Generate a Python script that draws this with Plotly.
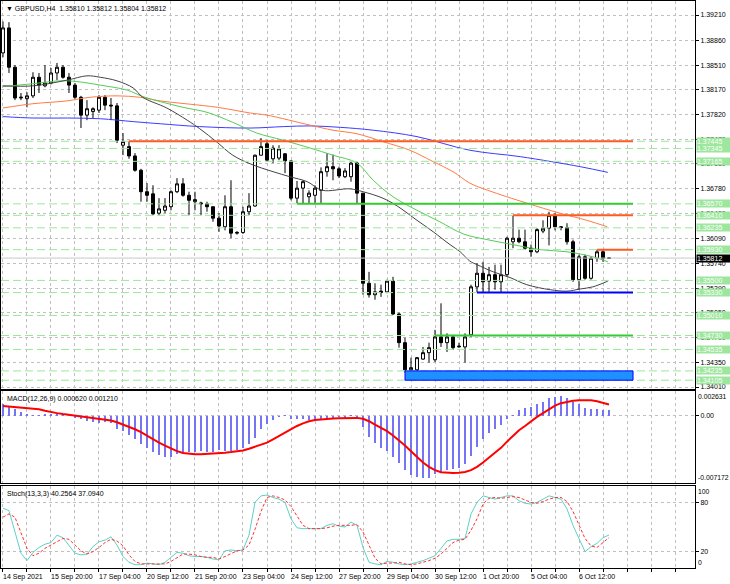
import plotly.graph_objects as go
from plotly.subplots import make_subplots

# GBPUSD H4 candles (bar index 0 = 14 Sep 2021 12:00)
opens = [1.3868, 1.3903, 1.3848, 1.3805, 1.3804, 1.3808, 1.3834, 1.3822, 1.3826, 1.3840,
         1.3848, 1.3834, 1.3823, 1.3806, 1.3781, 1.3786, 1.3788, 1.3806, 1.3795, 1.3794,
         1.3739, 1.3737, 1.3724, 1.3704, 1.3674, 1.3671, 1.3644, 1.3648, 1.3653, 1.3674,
         1.3685, 1.3669, 1.3660, 1.3657, 1.3657, 1.3653, 1.3637, 1.3625, 1.3653, 1.3616,
         1.3617, 1.3646, 1.3654, 1.3725, 1.3741, 1.3720, 1.3721, 1.3727, 1.3717, 1.3665,
         1.3679, 1.3667, 1.3669, 1.3676, 1.3702, 1.3709, 1.3706, 1.3695, 1.3695, 1.3714,
         1.3672, 1.3546, 1.3530, 1.3533, 1.3534, 1.3549, 1.3503, 1.3463, 1.3425, 1.3425,
         1.3440, 1.3449, 1.3439, 1.3471, 1.3463, 1.3471, 1.3457, 1.3457, 1.3474, 1.3541,
         1.3560, 1.3549, 1.3558, 1.3548, 1.3558, 1.3604, 1.3609, 1.3604, 1.3595, 1.3590,
         1.3619, 1.3623, 1.3641, 1.3625, 1.3624, 1.3604, 1.3551, 1.3583, 1.3553, 1.3581,
         1.3590, 1.35810]
highs = [1.3912, 1.3911, 1.3851, 1.3812, 1.3813, 1.3841, 1.3840, 1.3851, 1.3847, 1.3854,
         1.3851, 1.3840, 1.3826, 1.3808, 1.3802, 1.3792, 1.3809, 1.3809, 1.3805, 1.3798,
         1.3756, 1.3745, 1.3728, 1.3706, 1.3686, 1.3683, 1.3665, 1.3665, 1.3676, 1.3693,
         1.3693, 1.3674, 1.3674, 1.3660, 1.3660, 1.3653, 1.3644, 1.3669, 1.3690, 1.3619,
         1.3653, 1.3672, 1.3726, 1.3749, 1.3746, 1.3739, 1.3739, 1.3728, 1.3718, 1.3689,
         1.3690, 1.3676, 1.3683, 1.3708, 1.3728, 1.3726, 1.3709, 1.3707, 1.3716, 1.3716,
         1.3672, 1.3562, 1.3546, 1.3544, 1.3551, 1.3555, 1.3505, 1.3470, 1.3442, 1.3443,
         1.3457, 1.3463, 1.3481, 1.3518, 1.3476, 1.3474, 1.3463, 1.3476, 1.3544, 1.3574,
         1.3576, 1.3569, 1.3572, 1.3572, 1.3611, 1.3641, 1.3621, 1.3621, 1.3600, 1.3623,
         1.3634, 1.3646, 1.3644, 1.3626, 1.3630, 1.3607, 1.3586, 1.3586, 1.3583, 1.3593,
         1.3593, 1.35812]
lows = [1.3862, 1.3840, 1.3802, 1.3802, 1.3792, 1.3805, 1.3812, 1.3820, 1.3824, 1.3830,
        1.3832, 1.3812, 1.3804, 1.3763, 1.3774, 1.3777, 1.3784, 1.3788, 1.3774, 1.3742,
        1.3725, 1.3720, 1.3702, 1.3660, 1.3660, 1.3641, 1.3641, 1.3644, 1.3648, 1.3672,
        1.3667, 1.3641, 1.3648, 1.3641, 1.3646, 1.3632, 1.3618, 1.3620, 1.3609, 1.3614,
        1.3615, 1.3641, 1.3653, 1.3725, 1.3716, 1.3714, 1.3718, 1.3700, 1.3662, 1.3658,
        1.3658, 1.3658, 1.3658, 1.3658, 1.3695, 1.3690, 1.3693, 1.3693, 1.3688, 1.3658,
        1.3530, 1.3526, 1.3523, 1.3527, 1.3532, 1.3502, 1.3456, 1.3421, 1.3412, 1.3413,
        1.3439, 1.3435, 1.3436, 1.3457, 1.3450, 1.3453, 1.3456, 1.3435, 1.3471, 1.3533,
        1.3534, 1.3534, 1.3537, 1.3533, 1.3555, 1.3595, 1.3602, 1.3593, 1.3583, 1.3588,
        1.3616, 1.3599, 1.3620, 1.3620, 1.3600, 1.3548, 1.3537, 1.3551, 1.3551, 1.3576,
        1.3576, 1.35804]
closes = [1.3903, 1.3848, 1.3805, 1.3806, 1.3808, 1.3834, 1.3823, 1.3826, 1.3840, 1.3848,
          1.3834, 1.3823, 1.3806, 1.3781, 1.3790, 1.3790, 1.3806, 1.3795, 1.3794, 1.3746,
          1.3744, 1.3724, 1.3704, 1.3674, 1.3669, 1.3643, 1.3650, 1.3654, 1.3674, 1.3685,
          1.3669, 1.3662, 1.3663, 1.3658, 1.3653, 1.3637, 1.3626, 1.3653, 1.3616, 1.3617,
          1.3646, 1.3654, 1.3725, 1.3737, 1.3718, 1.3735, 1.3734, 1.3717, 1.3665, 1.3679,
          1.3688, 1.3672, 1.3679, 1.3702, 1.3709, 1.3706, 1.3696, 1.3703, 1.3714, 1.3672,
          1.3546, 1.3530, 1.3534, 1.3535, 1.3549, 1.3503, 1.3463, 1.3425, 1.3428, 1.3442,
          1.3449, 1.3456, 1.3471, 1.3463, 1.3471, 1.3456, 1.3458, 1.3471, 1.3541, 1.3560,
          1.3548, 1.3558, 1.3548, 1.3558, 1.3609, 1.3609, 1.3604, 1.3595, 1.3590, 1.3621,
          1.3623, 1.3641, 1.3625, 1.3624, 1.3604, 1.3551, 1.3583, 1.3553, 1.3581, 1.3590,
          1.3581, 1.35812]
bars = list(range(len(closes)))

# moving averages, read at sample bars
ma_black_x = [0, 5, 10.7, 14, 16.2, 19, 21.7, 23.3, 27.3, 30.7, 32.8, 35.7, 38.3, 41.2, 45, 47.8,
              50.7, 53.2, 57.8, 60, 63.3, 65.7, 69, 71.7, 74.5, 76.2, 77.8, 79, 81.7, 84.5, 87.3,
              91.2, 94, 96.2, 98.3, 100.8]
ma_black_y = [1.3822, 1.3822, 1.3830, 1.3836, 1.3834, 1.3829, 1.3819, 1.3806, 1.3791, 1.3774,
              1.3762, 1.3743, 1.3725, 1.3713, 1.3702, 1.3695, 1.3688, 1.3676, 1.3678, 1.3674,
              1.3665, 1.3654, 1.3634, 1.3618, 1.3600, 1.3590, 1.3577, 1.3572, 1.3562, 1.3554,
              1.3544, 1.3537, 1.3535, 1.3538, 1.3541, 1.3549]
ma_green_x = [0, 5, 9.5, 12.3, 16.2, 20.7, 23.3, 26.2, 30, 34, 38.3, 42.3, 46.7, 51.2, 55, 59,
              61.7, 65, 69, 72.8, 76.7, 80.7, 85, 89.5, 94, 98.3, 100.8]
ma_green_y = [1.3821, 1.3825, 1.3829, 1.3828, 1.3823, 1.3816, 1.3807, 1.3800, 1.3792, 1.3785,
              1.3771, 1.3756, 1.3746, 1.3735, 1.3725, 1.3714, 1.3690, 1.3667, 1.3648, 1.3632,
              1.3615, 1.3607, 1.3600, 1.3593, 1.3590, 1.3583, 1.3576]
ma_orange_x = [0, 5, 10.7, 14.5, 19, 22.8, 26.2, 35.7, 41.2, 44, 51.2, 55, 59, 63.3, 67.8, 71.7,
               75, 77.8, 80.8, 87.3, 92.8, 97.3, 100.7]
ma_orange_y = [1.3791, 1.3797, 1.3801, 1.3806, 1.3808, 1.3806, 1.3801, 1.3792, 1.3784, 1.3781,
               1.3767, 1.3760, 1.3755, 1.3744, 1.3732, 1.3716, 1.3702, 1.3686, 1.3676, 1.3658,
               1.3644, 1.3634, 1.3625]
ma_blue_x = [0, 5, 10.7, 16.2, 21.7, 26.2, 32.8, 41.2, 46.7, 51.2, 56.2, 61.7, 69, 77.8, 86.2,
             96.2, 100.8]
ma_blue_y = [1.3779, 1.3777, 1.3777, 1.3776, 1.3772, 1.3769, 1.3765, 1.3763, 1.3765, 1.3766,
             1.3764, 1.3760, 1.3751, 1.3732, 1.3723, 1.3709, 1.3701]

# MACD(12,26,9)
macd_hist = [0.00123, 0.00098, 0.00070, 0.00042, 0.00018, 0.00007, 0.00007, 0.00014, 0.00018, 0.00025,
             0.00010, 0.00000, -0.00018, -0.00035, -0.00053, -0.00063, -0.00070, -0.00063, -0.00077, -0.00133,
             -0.00158, -0.00200, -0.00245, -0.00298, -0.00333, -0.00379, -0.00414, -0.00431, -0.00428, -0.00403,
             -0.00386, -0.00379, -0.00375, -0.00368, -0.00375, -0.00375, -0.00358, -0.00368, -0.00372, -0.00358,
             -0.00333, -0.00298, -0.00228, -0.00140, -0.00088, -0.00046, -0.00010, 0.00002, -0.00035, -0.00035,
             -0.00035, -0.00046, -0.00035, -0.00035, -0.00025, -0.00018, -0.00010, -0.00018, 0.00010, -0.00003,
             -0.00112, -0.00217, -0.00287, -0.00340, -0.00368, -0.00428, -0.00498, -0.00568, -0.00624, -0.00642,
             -0.00649, -0.00649, -0.00614, -0.00589, -0.00568, -0.00561, -0.00543, -0.00508, -0.00421, -0.00323,
             -0.00245, -0.00175, -0.00140, -0.00098, -0.00035, 0.00010, 0.00063, 0.00080, 0.00098, 0.00123,
             0.00150, 0.00186, 0.00203, 0.00210, 0.00186, 0.00150, 0.00123, 0.00080, 0.00070, 0.00070,
             0.00063, 0.00062]
macd_signal = [0.00105, 0.00100, 0.00095, 0.00090, 0.00085, 0.00078, 0.00070, 0.00055, 0.00040, 0.00030,
               0.00020, 0.00012, 0.00004, -0.00002, -0.00010, -0.00018, -0.00026, -0.00036, -0.00048, -0.00066,
               -0.00088, -0.00112, -0.00140, -0.00170, -0.00208, -0.00245, -0.00280, -0.00312, -0.00345, -0.00370,
               -0.00390, -0.00398, -0.00403, -0.00403, -0.00400, -0.00397, -0.00392, -0.00387, -0.00380, -0.00372,
               -0.00362, -0.00345, -0.00325, -0.00305, -0.00280, -0.00245, -0.00210, -0.00170, -0.00135, -0.00105,
               -0.00078, -0.00055, -0.00042, -0.00035, -0.00030, -0.00027, -0.00025, -0.00024, -0.00022, -0.00020,
               -0.00030, -0.00055, -0.00090, -0.00125, -0.00160, -0.00205, -0.00255, -0.00310, -0.00370, -0.00430,
               -0.00490, -0.00535, -0.00570, -0.00592, -0.00598, -0.00600, -0.00598, -0.00590, -0.00570, -0.00535,
               -0.00490, -0.00440, -0.00385, -0.00335, -0.00270, -0.00210, -0.00150, -0.00105, -0.00055, -0.00010,
               0.00030, 0.00070, 0.00110, 0.00135, 0.00150, 0.00160, 0.00166, 0.00168, 0.00165, 0.00155,
               0.00140, 0.00121]

# Stochastic(13,3,3)
stoch_main = [73, 70, 44, 18, 9, 19, 25, 29, 31, 40, 37, 28, 18, 16, 17, 26, 32, 34, 38, 28,
              14, 7, 4, 4, 6, 5, 4, 7, 13, 19, 18, 15, 14, 14, 13, 11, 10, 21, 22, 21,
              22, 40, 80, 88, 89, 86, 84, 80, 60, 49, 48, 48, 48, 48, 52, 54, 51, 50, 56, 52,
              25, 7, 5, 4, 8, 7, 5, 4, 5, 7, 9, 12, 15, 24, 33, 35, 35, 36, 66, 80,
              88, 86, 84, 86, 88, 88, 82, 79, 78, 80, 84, 88, 86, 84, 72, 52, 36, 20, 26, 30,
              37, 40.2564]
stoch_signal = [62, 66, 62, 44, 24, 15, 18, 24, 28, 33, 36, 35, 28, 21, 17, 20, 25, 31, 35, 33,
                27, 16, 8, 5, 5, 5, 5, 5, 8, 13, 17, 17, 16, 14, 13, 13, 11, 14, 18, 21,
                22, 28, 47, 69, 86, 88, 86, 83, 75, 63, 52, 48, 48, 48, 49, 51, 52, 52, 52, 53,
                44, 28, 12, 5, 6, 6, 7, 5, 4, 5, 7, 9, 12, 17, 24, 31, 34, 35, 46, 60,
                78, 85, 86, 85, 86, 87, 86, 83, 80, 79, 81, 84, 86, 86, 81, 69, 53, 36, 27, 25,
                31, 37.0940]

# axis labels
price_ticks = [1.34010, 1.34350, 1.34700, 1.35050, 1.35390, 1.35740, 1.36090, 1.36430,
               1.36780, 1.37130, 1.37470, 1.37820, 1.38170, 1.38510, 1.38860, 1.39210]
label_bars = [0, 8, 16, 24, 32, 40, 48, 56, 64, 72, 80, 88, 96]
time_labels = ["14 Sep 2021", "15 Sep 20:00", "17 Sep 04:00", "20 Sep 12:00", "21 Sep 20:00",
               "23 Sep 04:00", "24 Sep 12:00", "27 Sep 20:00", "29 Sep 04:00", "30 Sep 12:00",
               "1 Oct 20:00", "5 Oct 04:00", "6 Oct 12:00"]
grid_bars = list(range(0, 116, 4))

# horizontal levels drawn on the chart
levels = [1.37445, 1.37345, 1.37165, 1.36570, 1.36410, 1.36235, 1.35930,
          1.35500, 1.35330, 1.35010, 1.34730, 1.34535, 1.34235, 1.34105]
seg_levels = [1.37445, 1.36570, 1.36410, 1.35930, 1.35330, 1.34730]
seg_start = [21, 49, 85, 99, 79, 72]
seg_colors = ["#ff5a1f", "#33cc33", "#ff5a1f", "#ff5a1f", "#0000ff", "#33cc33"]
zone_low, zone_high, zone_start = 1.34105, 1.34235, 67
seg_end = 105
last_price = 1.35812

FONT = "Liberation Sans, Arial, sans-serif"

fig = make_subplots(rows=3, cols=1, shared_xaxes=True)

fig.add_trace(go.Candlestick(
    x=bars, open=opens, high=highs, low=lows, close=closes,
    increasing=dict(fillcolor="white", line=dict(color="black", width=1)),
    decreasing=dict(fillcolor="black", line=dict(color="black", width=1)),
    whiskerwidth=0, showlegend=False), row=1, col=1)

for xs, ys, col in [(ma_blue_x, ma_blue_y, "#3b3bff"), (ma_orange_x, ma_orange_y, "#ff7a45"),
                    (ma_green_x, ma_green_y, "#55cc55"), (ma_black_x, ma_black_y, "#444444")]:
    fig.add_trace(go.Scatter(x=xs, y=ys, mode="lines", line=dict(color=col, width=1, shape="spline"),
                             showlegend=False, hoverinfo="skip"), row=1, col=1)

fig.add_trace(go.Bar(x=bars, y=macd_hist, width=0.2, marker=dict(color="#7474f4", line=dict(width=0)),
                     showlegend=False), row=2, col=1)
fig.add_trace(go.Scatter(x=bars, y=macd_signal, mode="lines", line=dict(color="#ff0000", width=2),
                         showlegend=False), row=2, col=1)

fig.add_trace(go.Scatter(x=bars, y=stoch_main, mode="lines", line=dict(color="#5fd0c6", width=1),
                         showlegend=False), row=3, col=1)
fig.add_trace(go.Scatter(x=bars, y=stoch_signal, mode="lines",
                         line=dict(color="#ff3030", width=1, dash="3px,2px"),
                         showlegend=False), row=3, col=1)

# levels
for lv in levels:
    fig.add_shape(type="line", xref="x domain", yref="y", x0=0, x1=1, y0=lv, y1=lv,
                  line=dict(color="#9be69b", width=1, dash="8px,4px"))
fig.add_shape(type="line", xref="x domain", yref="y", x0=0, x1=1, y0=last_price, y1=last_price,
              line=dict(color="#c8c8c8", width=1))
for lv, s, c in zip(seg_levels, seg_start, seg_colors):
    fig.add_shape(type="line", xref="x", yref="y", x0=s, x1=seg_end, y0=lv, y1=lv,
                  line=dict(color=c, width=2))
fig.add_shape(type="rect", xref="x", yref="y", x0=zone_start, x1=seg_end, y0=zone_low, y1=zone_high,
              fillcolor="#1e90ff", line=dict(color="#0000ff", width=1))

grid = dict(showgrid=True, gridcolor="#c0c0c0", griddash="3px,3px", gridwidth=1)
box = dict(showline=True, linecolor="black", linewidth=1, mirror=True)

xcommon = dict(range=[-0.33, 115.33], tickmode="array", tickvals=grid_bars, showticklabels=False,
               ticks="", zeroline=False, **grid, **box)
fig.update_xaxes(**xcommon)
fig.update_xaxes(rangeslider_visible=False, row=1, col=1)
fig.update_xaxes(ticks="outside", ticklen=3, tickcolor="black", row=3, col=1)

ytick = dict(side="right", ticks="outside", ticklen=3, tickcolor="black", zeroline=False,
             tickfont=dict(family=FONT, size=7, color="black"), **grid, **box)
fig.update_layout(
    yaxis=dict(domain=[0.3157, 1.0], range=[1.33982, 1.39406], tickmode="array",
               tickvals=price_ticks, ticktext=[f"{v:.5f}" for v in price_ticks], **ytick),
    yaxis2=dict(domain=[0.1499, 0.3122], range=[-0.00705, 0.00263], tickmode="array",
                tickvals=[0], ticktext=["0.00"], **ytick),
    yaxis3=dict(domain=[0.0, 0.1446], range=[0, 100], tickmode="array",
                tickvals=[20, 80], ticktext=["20", "80"], **ytick),
)

ann = []
f7 = dict(family=FONT, size=7, color="black")
ann.append(dict(xref="paper", yref="paper", x=0, y=1, xanchor="left", yanchor="top", xshift=3, yshift=-2,
                text="\u25bc GBPUSD,H4  1.35810 1.35812 1.35804 1.35812", showarrow=False, font=f7))
ann.append(dict(xref="paper", yref="y2 domain", x=0, y=1, xanchor="left", yanchor="top", xshift=4, yshift=-2,
                text="MACD(12,26,9) 0.000620 0.001210", showarrow=False, font=f7))
ann.append(dict(xref="paper", yref="y3 domain", x=0, y=1, xanchor="left", yanchor="top", xshift=4, yshift=-2,
                text="Stoch(13,3,3) 40.2564 37.0940", showarrow=False, font=f7))
for txt, yr, yy, anc in [("0.002631", "y2 domain", 1, "top"), ("-0.007172", "y2 domain", 0, "bottom"),
                         ("100", "y3 domain", 1, "top"), ("0", "y3 domain", 0, "bottom")]:
    ann.append(dict(xref="paper", yref=yr, x=1, y=yy, xanchor="left", yanchor=anc, xshift=1,
                    text=txt, showarrow=False, font=dict(family=FONT, size=6.8, color="black")))
for lv in levels:
    ann.append(dict(xref="paper", yref="y", x=1, y=lv, xanchor="left", yanchor="middle", xshift=1,
                    text=f"{lv:.5f}", showarrow=False, bgcolor="#9de69d", borderpad=0,
                    width=33, align="left", font=dict(family=FONT, size=7, color="white")))
ann.append(dict(xref="paper", yref="y", x=1, y=last_price, xanchor="left", yanchor="middle", xshift=1,
                text=f"{last_price:.5f}", showarrow=False, bgcolor="black", borderpad=0,
                width=33, align="left", font=dict(family=FONT, size=7, color="white")))
for b, t in zip(label_bars, time_labels):
    ann.append(dict(xref="x3", yref="paper", x=b, y=0, xanchor="left", yanchor="top", xshift=-2, yshift=-3,
                    text=t, showarrow=False, font=f7))

fig.update_layout(
    width=730, height=584,
    margin=dict(l=1, r=35, t=1, b=16),
    paper_bgcolor="white", plot_bgcolor="white",
    annotations=ann, bargap=0, showlegend=False,
    font=dict(family=FONT, size=7, color="black"),
)

# the page body has a default margin; remove it so the chart fills the window
fig.write_html("out.html", config={"displayModeBar": False},
               post_script="document.body.style.margin='0px';")
